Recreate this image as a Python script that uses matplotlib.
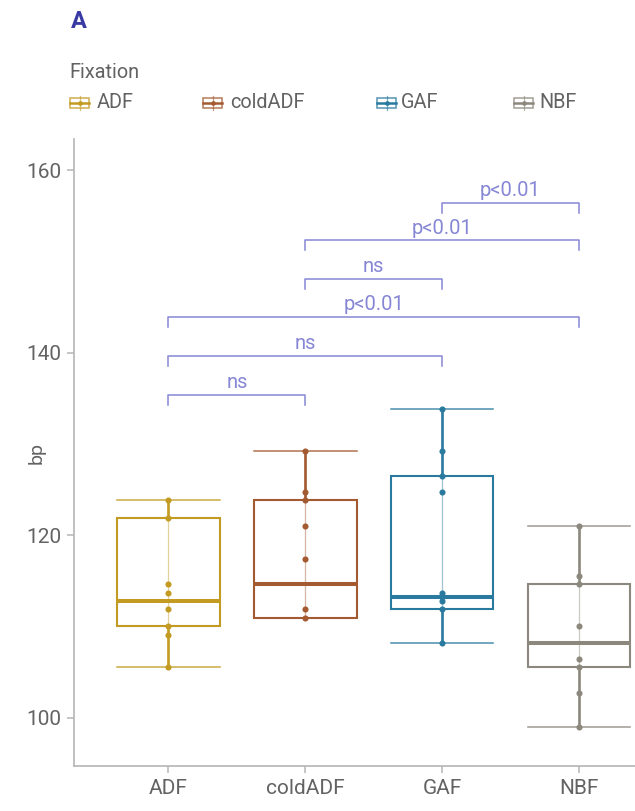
import matplotlib
matplotlib.use("Agg")
import matplotlib.pyplot as plt
from matplotlib.patches import Rectangle
from matplotlib.lines import Line2D

# ---------------- data ----------------
categories = ["ADF", "coldADF", "GAF", "NBF"]
q1 = [110.0, 110.9, 111.9, 105.5]
med = [112.8, 114.6, 113.2, 108.2]
q3 = [121.9, 123.8, 126.5, 114.6]
whislo = [105.5, 110.9, 108.2, 99.0]
whishi = [123.8, 129.2, 133.8, 121.0]
points = {
    "ADF": [123.8, 121.9, 114.6, 113.7, 111.9, 110.0, 109.1, 105.5],
    "coldADF": [129.2, 124.7, 123.8, 121.0, 117.4, 111.9, 110.9],
    "GAF": [133.8, 129.2, 126.5, 124.7, 113.7, 113.2, 112.8, 111.9, 108.2],
    "NBF": [121.0, 115.5, 114.6, 110.0, 106.4, 105.5, 102.7, 99.0],
}
colors = ["#C39A22", "#A35A31", "#2A7AA0", "#8C887E"]
comparisons = [("ADF", "coldADF", "ns", 135.4),
               ("ADF", "GAF", "ns", 139.6),
               ("ADF", "NBF", "p<0.01", 143.9),
               ("coldADF", "GAF", "ns", 148.1),
               ("coldADF", "NBF", "p<0.01", 152.3),
               ("GAF", "NBF", "p<0.01", 156.4)]
yticks = [100, 120, 140, 160]
legend_title = "Fixation"
panel_label = "A"
ylabel = "bp"

# ---------------- style ----------------
FONT = ["Roboto", "DejaVu Sans"]
plt.rcParams["font.family"] = FONT
TXT = "#636363"
BR = "#8686D6"

W, H = 635, 811
fig = plt.figure(figsize=(W / 100, H / 100), dpi=100)
ax = fig.add_axes([74 / W, 1 - 766 / H, (W - 74) / W, (766 - 139) / H])

pos = list(range(1, len(categories) + 1))
bw = 0.75
for i, c in enumerate(categories):
    x = pos[i]
    col = colors[i]
    # thin inner line through all points
    ax.plot([x, x], [whislo[i], whishi[i]], color=col, lw=0.9, alpha=0.45, zorder=2)
    # whiskers
    ax.plot([x, x], [q3[i], whishi[i]], color=col, lw=1.9, zorder=3, solid_capstyle="butt")
    ax.plot([x, x], [whislo[i], q1[i]], color=col, lw=1.9, zorder=3, solid_capstyle="butt")
    # caps
    ax.plot([x - bw / 2, x + bw / 2], [whishi[i]] * 2, color=col, lw=1.1, alpha=0.85, zorder=3)
    ax.plot([x - bw / 2, x + bw / 2], [whislo[i]] * 2, color=col, lw=1.1, alpha=0.85, zorder=3)
    # box
    ax.add_patch(Rectangle((x - bw / 2, q1[i]), bw, q3[i] - q1[i], fill=False,
                           edgecolor=col, lw=1.5, zorder=3))
    # median
    ax.plot([x - bw / 2, x + bw / 2], [med[i]] * 2, color=col, lw=2.9, zorder=4,
            solid_capstyle="butt")
    # points
    ys = points[c]
    ax.plot([x] * len(ys), ys, "o", color=col, ms=4.4, mec="none", zorder=5)

# significance brackets
tick_len = 1.1
for a, b, lab, yv in comparisons:
    xa = pos[categories.index(a)]
    xb = pos[categories.index(b)]
    ax.plot([xa, xa, xb, xb], [yv - tick_len, yv, yv, yv - tick_len], color=BR, lw=1.1, zorder=2)
    ax.text((xa + xb) / 2, yv + 0.3, lab, color=BR, fontsize=14.5, ha="center", va="bottom",
            family=FONT)

ax.set_xlim(0.31, 4.41)
ax.set_ylim(94.7, 163.4)
ax.set_xticks(pos)
ax.set_xticklabels(categories)
ax.set_yticks(yticks)
for s in ["top", "right"]:
    ax.spines[s].set_visible(False)
for s in ["left", "bottom"]:
    ax.spines[s].set_color("#B5B5B5")
    ax.spines[s].set_linewidth(1.2)
ax.tick_params(colors="#B5B5B5", labelcolor=TXT, labelsize=15, length=5, width=1.1, pad=4)
ax.set_ylabel(ylabel, color=TXT, fontsize=14)
ax.yaxis.set_label_coords(-(74 - 46) / (W - 74), 0.5)

# panel label
fig.text(71 / W, 1 - 21 / H, panel_label, color="#3A3AA5", fontsize=17, fontweight="bold",
         ha="left", va="center", family=FONT)

# legend (manual, ggplot style)
fig.text(69 / W, 1 - 73 / H, legend_title, color=TXT, fontsize=14.3, ha="left", va="center",
         family=FONT)
key_x = [70, 203, 377, 514]
lab_x = [97, 230, 401, 539]
ky = 103
for i, c in enumerate(categories):
    col = colors[i]
    x0 = key_x[i]
    kw, kh = 19, 10
    fig.add_artist(Rectangle((x0 / W, 1 - (ky + kh / 2) / H), kw / W, kh / H, fill=False,
                             edgecolor=col, lw=1.1, transform=fig.transFigure, alpha=0.8))
    fig.add_artist(Line2D([x0 / W, (x0 + kw) / W], [1 - ky / H] * 2, color=col, lw=1.8,
                          transform=fig.transFigure))
    fig.add_artist(Line2D([(x0 + kw / 2) / W] * 2, [1 - (ky + 7) / H, 1 - (ky - 7) / H],
                          color=col, lw=0.9, alpha=0.6, transform=fig.transFigure))
    fig.add_artist(Line2D([(x0 + kw / 2) / W], [1 - ky / H], marker="o", ms=3.4, mec="none",
                          color=col, transform=fig.transFigure))
    fig.text(lab_x[i] / W, 1 - ky / H, c, color=TXT, fontsize=14.3, ha="left", va="center",
             family=FONT)

fig.savefig("out.png", dpi=100)
